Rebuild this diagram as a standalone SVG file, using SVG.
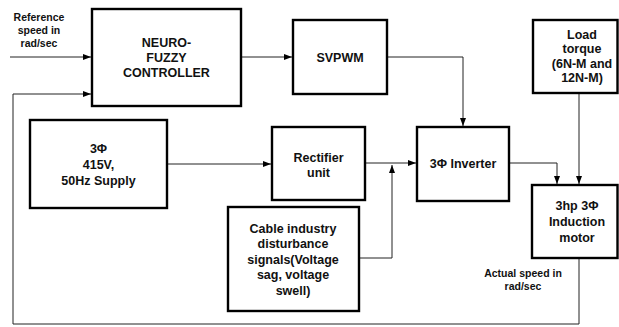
<svg xmlns="http://www.w3.org/2000/svg" width="619" height="327" viewBox="0 0 619 327">
<style>
.box{fill:#fff;stroke:#000;stroke-width:2.4}
.t{font-family:"Liberation Sans",Arial,sans-serif;font-weight:bold;font-size:12.5px;fill:#111;text-anchor:middle}
.s{font-family:"Liberation Sans",Arial,sans-serif;font-weight:bold;font-size:10.5px;fill:#111;text-anchor:middle}
.c{fill:none;stroke:#222;stroke-width:1}
</style>
<defs>
<marker id="a" markerWidth="8" markerHeight="6" refX="8" refY="3" orient="auto" markerUnits="userSpaceOnUse">
<path d="M0,0 L8,3 L0,6 Z" fill="#000"/>
</marker>
</defs>
<rect width="619" height="327" fill="#fff"/>
<g id="connectors">
<path class="c" d="M10,57 H91" marker-end="url(#a)"/>
<path class="c" d="M241,57 H292" marker-end="url(#a)"/>
<path class="c" d="M387,57 H463 V126" marker-end="url(#a)"/>
<path class="c" d="M579,93 V184" marker-end="url(#a)"/>
<path class="c" d="M509,163 H557 V184" marker-end="url(#a)"/>
<path class="c" d="M167,164 H271" marker-end="url(#a)"/>
<path class="c" d="M365,163 H416" marker-end="url(#a)"/>
<path class="c" d="M359,258 H392 V165" marker-end="url(#a)"/>
<path class="c" d="M579,258 V324 H13 V94 H91" marker-end="url(#a)" stroke="#444"/>
</g>
<g id="ref-label">
<text class="s" x="39" y="21">Reference</text>
<text class="s" x="39" y="34">speed in</text>
<text class="s" x="39" y="47">rad/sec</text>
</g>
<g id="neuro-fuzzy">
<rect class="box" x="92" y="9" width="149" height="97"/>
<text class="t" x="166.5" y="47">NEURO-</text>
<text class="t" x="166.5" y="62">FUZZY</text>
<text class="t" x="166.5" y="77">CONTROLLER</text>
</g>
<g id="svpwm">
<rect class="box" x="293" y="20" width="94" height="74"/>
<text class="t" x="340" y="62">SVPWM</text>
</g>
<g id="load-torque">
<rect class="box" x="533" y="20" width="84.5" height="73"/>
<text class="t" x="582" y="38.5">Load</text>
<text class="t" x="582" y="53">torque</text>
<text class="t" x="582" y="67.5">(6N-M and</text>
<text class="t" x="582" y="82">12N-M)</text>
</g>
<g id="supply">
<rect class="box" x="30" y="120" width="137" height="88"/>
<text class="t" x="98.5" y="152.5">3Φ</text>
<text class="t" x="98.5" y="168.5">415V,</text>
<text class="t" x="98.5" y="184.5">50Hz Supply</text>
</g>
<g id="rectifier">
<rect class="box" x="272" y="127" width="93" height="73"/>
<text class="t" x="318.5" y="161.5">Rectifier</text>
<text class="t" x="318.5" y="176.5">unit</text>
</g>
<g id="inverter">
<rect class="box" x="417" y="127" width="92" height="74"/>
<text class="t" x="463" y="168">3Φ Inverter</text>
</g>
<g id="motor">
<rect class="box" x="532" y="185" width="85.5" height="73"/>
<text class="t" x="577" y="209.5">3hp 3Φ</text>
<text class="t" x="577" y="226">Induction</text>
<text class="t" x="577" y="242">motor</text>
</g>
<g id="cable">
<rect class="box" x="228" y="207" width="131" height="104"/>
<text class="t" x="293" y="232.5">Cable industry</text>
<text class="t" x="293" y="248">disturbance</text>
<text class="t" x="293" y="263.5">signals(Voltage</text>
<text class="t" x="293" y="279">sag, voltage</text>
<text class="t" x="293" y="295">swell)</text>
</g>
<g id="actual-label">
<text class="s" x="523" y="277">Actual speed in</text>
<text class="s" x="523" y="290">rad/sec</text>
</g>
</svg>
